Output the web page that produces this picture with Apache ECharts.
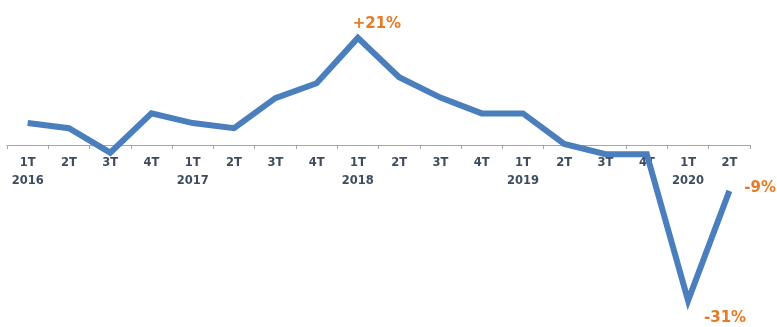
<!DOCTYPE html>
<html>
<head>
<meta charset="utf-8">
<script src="https://cdn.jsdelivr.net/npm/echarts@6/dist/echarts.min.js"></script>
<style>html,body{margin:0;padding:0;background:#fff}#c{width:777px;height:327px}</style>
</head>
<body>
<div id="c"></div>
<script>
const quarters = ['1T','2T','3T','4T','1T','2T','3T','4T','1T','2T','3T','4T','1T','2T','3T','4T','1T','2T'];
const years = ['2016','','','','2017','','','','2018','','','','2019','','','','2020',''];
const values = [4.3, 3.3, -1.5, 6.2, 4.3, 3.3, 9.2, 12.1, 21, 13.3, 9.3, 6.2, 6.2, 0.2, -1.8, -1.8, -30.5, -9];
const calloutText = {8: '+21%', 16: '-31%', 17: '-9%'};

const categories = quarters.map((q, i) => q + '\n' + years[i]);
const orange = '#e47b26';
const yMin = -35, yMax = 25;
const H = 327, gridTop = 17.5, gridBottom = 3.5;
const plotH = H - gridTop - gridBottom;
// distance from grid bottom up to the zero line
const zeroOffset = -plotH * (0 - yMin) / (yMax - yMin);

const calloutStyle = {
  8: {position: 'top', offset: [19, -1]},
  16: {position: 'bottom', offset: [37, 5]},
  17: {position: 'right', offset: [10, -3]}
};
const seriesData = values.map((v, i) => {
  if (calloutText[i] === undefined) return v;
  return {
    value: v,
    label: Object.assign({
      show: true,
      formatter: calloutText[i],
      color: orange,
      fontFamily: 'DejaVu Sans',
      fontWeight: 'bold',
      fontSize: 15
    }, calloutStyle[i])
  };
});

const chart = echarts.init(document.getElementById('c'), null, {renderer: 'canvas'});
chart.setOption({
  animation: false,
  grid: {left: 7, right: 27, top: gridTop, bottom: gridBottom, containLabel: false, outerBoundsMode: 'none'},
  xAxis: {
    type: 'category',
    data: categories,
    boundaryGap: true,
    position: 'bottom',
    offset: zeroOffset,
    axisLine: {onZero: false, lineStyle: {color: '#a6a6a6', width: 1}},
    axisTick: {show: true, length: 4, lineStyle: {color: '#a6a6a6'}},
    axisLabel: {
      interval: 0,
      margin: 9,
      color: '#3e4c5e',
      fontFamily: 'DejaVu Sans',
      fontWeight: 'bold',
      fontSize: 11.5,
      lineHeight: 18
    },
    splitLine: {show: false}
  },
  yAxis: {
    type: 'value',
    min: yMin,
    max: yMax,
    show: false,
    splitLine: {show: false}
  },
  series: [{
    type: 'line',
    data: seriesData,
    symbol: 'circle',
    symbolSize: 0,
    showSymbol: true,
    lineStyle: {color: '#4a7ebd', width: 6, join: 'miter'},
    itemStyle: {color: '#4a7ebd'},
    z: 5
  }]
});
</script>
</body>
</html>
